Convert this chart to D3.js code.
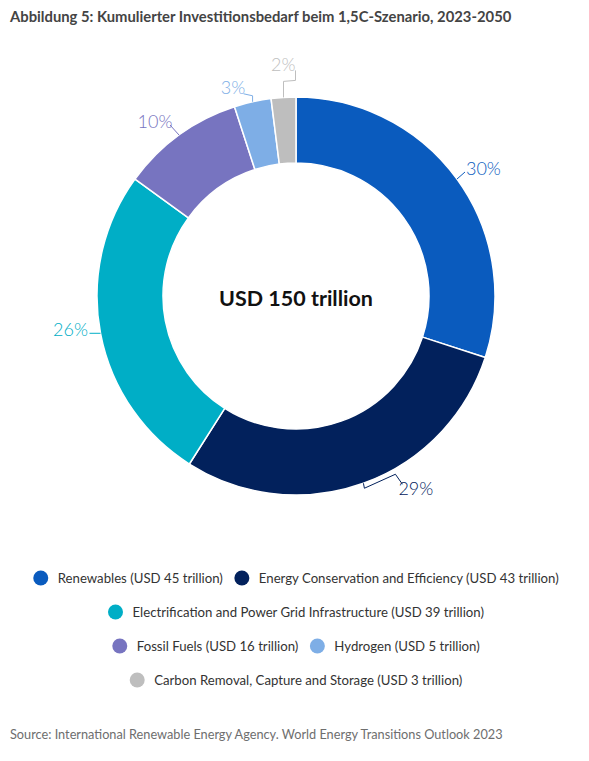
<!DOCTYPE html>
<html><head><meta charset="utf-8">
<script src="https://cdn.jsdelivr.net/npm/d3@7"></script>
<style>
body{margin:0;background:#fff;}
svg{display:block;font-family:Lato,"Noto Sans",sans-serif;}
</style></head>
<body>
<svg id="c" width="589" height="761"></svg>
<script>
// ---- data ----
const categories = ["Renewables","Energy Conservation and Efficiency","Electrification and Power Grid Infrastructure","Fossil Fuels","Hydrogen","Carbon Removal, Capture and Storage"];
const valuesTrillion = [45, 43, 39, 16, 5, 3];
const sharePercent = [30, 29, 26, 10, 3, 2];
const colors = ["#0A5BBE","#02215C","#00AEC6","#7774C0","#7EAEE6","#BEBEBE"];
const totalLabel = "USD 150 trillion";
const titleText = "Abbildung 5: Kumulierter Investitionsbedarf beim 1,5C-Szenario, 2023-2050";
const sourceText = "Source: International Renewable Energy Agency. World Energy Transitions Outlook 2023";
const legendRows = [[0,1],[2],[3,4],[5]];

// ---- layout ----
const svg = d3.select("#c");
const cx = 296, cy = 296, rOuter = 199, rInner = 133;
const leaderSteps = [
  [[8,-7]],
  [[1,5],[31,-14],[7,10]],
  [[-11,0]],
  [[-9,-10]],
  [[0,-6],[-9,-2]],
  [[0,-16],[12,-1],[0,-10]]
];
const textOffset = [
  {dx:1,dy:-4,anchor:"start"},
  {dx:-4,dy:4,anchor:"start"},
  {dx:-1.5,dy:-4,anchor:"end"},
  {dx:2.5,dy:-4,anchor:"end"},
  {dx:1.7,dy:-7,anchor:"end"},
  {dx:0,dy:-6,anchor:"end"}
];

function fitText(sel, target){
  const w = sel.node().getComputedTextLength();
  const fs = parseFloat(sel.attr("font-size"));
  sel.attr("font-size", fs*target/w);
}

// title
const t = svg.append("text").attr("x",10).attr("y",22).attr("font-size",13.5)
  .attr("font-weight",700).attr("fill","#444").text(titleText);
fitText(t, 502);

const pie = d3.pie().sort(null).value(d=>d)(sharePercent);
const arc = d3.arc().innerRadius(rInner).outerRadius(rOuter);
const g = svg.append("g").attr("transform",`translate(${cx},${cy})`);
g.selectAll("path.slice").data(pie).join("path").attr("class","slice")
  .attr("d",arc).attr("fill",(d,i)=>colors[i])
  .attr("stroke","#fff").attr("stroke-width",1.5).attr("stroke-linejoin","round");

// labels + leaders
pie.forEach((d,i)=>{
  const a = (d.startAngle+d.endAngle)/2;
  let x = Math.sin(a)*rOuter, y = -Math.cos(a)*rOuter;
  const pts = [[x,y]];
  leaderSteps[i].forEach(s=>{x+=s[0]; y+=s[1]; pts.push([x,y]);});
  g.append("path").attr("d", d3.line()(pts)).attr("fill","none")
    .attr("stroke",colors[i]).attr("stroke-width",1);
  const o = textOffset[i];
  g.append("text").attr("x",x+o.dx).attr("y",y+o.dy).attr("text-anchor",o.anchor)
    .attr("dominant-baseline","central").attr("font-size",18).attr("font-weight",300)
    .attr("fill",colors[i]).text(sharePercent[i] + "%");
});

// center label
const ct = g.append("text").attr("x",0).attr("y",2).attr("text-anchor","middle")
  .attr("dominant-baseline","central").attr("font-size",20).attr("font-weight",700)
  .attr("fill","#111").text(totalLabel);
fitText(ct, 154);

// legend
const rowY = [578, 612, 646, 680];
const legendFs = 13.2, circleR = 7.5, circleGap = 17, itemGap = 19;
legendRows.forEach((row, ri)=>{
  const lg = svg.append("g");
  let xpos = 0;
  row.forEach((ci, k)=>{
    if(k>0) xpos += itemGap;
    lg.append("circle").attr("cx", xpos).attr("cy", rowY[ri]).attr("r", circleR).attr("fill", colors[ci]);
    const tx = lg.append("text").attr("x", xpos+circleGap).attr("y", rowY[ri])
      .attr("dominant-baseline","central").attr("font-size",legendFs).attr("fill","#333")
      .text(`${categories[ci]} (USD ${valuesTrillion[ci]} trillion)`);
    xpos += circleGap + tx.node().getComputedTextLength();
  });
  const totalW = xpos + circleR;
  lg.attr("transform", `translate(${cx - totalW/2 + circleR},0)`);
});

// source
const st = svg.append("text").attr("x",10).attr("y",739).attr("font-size",11.5)
  .attr("font-weight",400).attr("fill","#6e6e6e").text(sourceText);
fitText(st, 493);
</script>
</body></html>
